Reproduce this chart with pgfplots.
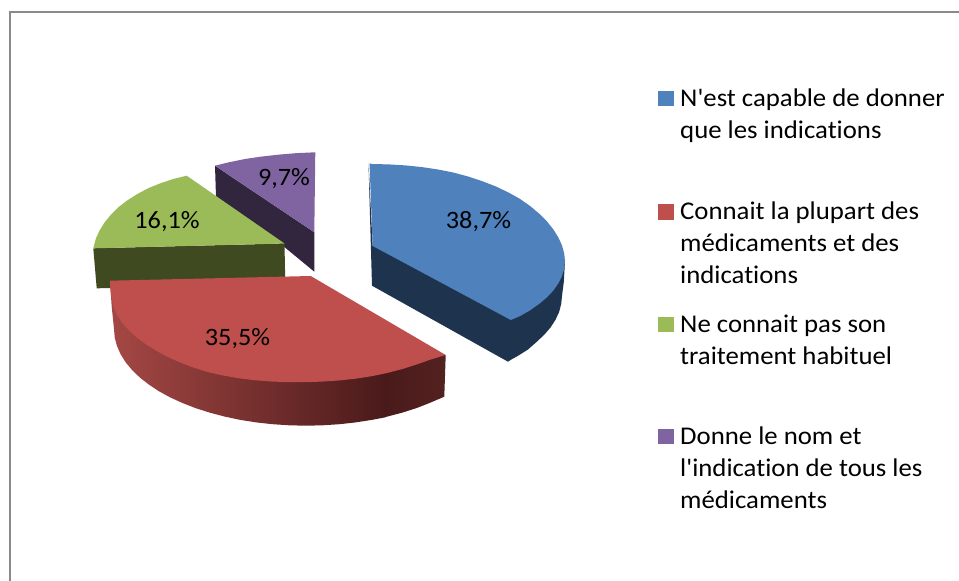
\documentclass[border=0pt]{standalone}
\usepackage{pgfplots}
\pgfplotsset{compat=1.18}
\usepackage{fontspec}
\setmainfont{Carlito}[Ligatures={TeXOff,NoCommon},FakeStretch=1.05]
\definecolor{cblue}{HTML}{4F81BD}
\definecolor{cred}{HTML}{BE4F4C}
\definecolor{cgreen}{HTML}{9BBB59}
\definecolor{cpurple}{HTML}{8064A2}
\definecolor{dblue}{HTML}{1E334E}
\definecolor{dgreen}{HTML}{404A20}
\definecolor{dpurple}{HTML}{32263F}
\definecolor{frame}{HTML}{8A8A8A}
\definecolor{sideL}{HTML}{A54845}
\definecolor{sideR}{HTML}{4A1A1A}
\definecolor{sideE}{HTML}{532120}
\begin{document}
\begin{tikzpicture}
\begin{axis}[
  scale only axis, width=959pt, height=581pt,
  xmin=0, xmax=959, ymin=0, ymax=581, y dir=reverse,
  hide axis, clip=true,
  every axis plot/.append style={draw=none, mark=none},
]
% background and frame
\addplot[fill=white] coordinates {(0,0)(959,0)(959,581)(0,581)} --cycle;
\addplot[draw=frame, line width=2pt] coordinates {(10,581)(10,12)(959,12)};
% purple slice
\addplot[fill=dpurple] coordinates {(215,165.7)(314.3,232.3)(314.3,271.7)(285,247.5)(216,197)} --cycle;
\addplot[fill=cpurple] coordinates {(215,165.7)(228,162.5)(245,159)(262,156.5)(280,154.5)(297,153.1)(315.3,152.3)(314.3,232.3)} --cycle;
% green slice
\addplot[fill=dgreen] coordinates {(93.3,248.3)(284.5,243.5)(285.3,285)(96.7,288.3)} --cycle;
\addplot[fill=cgreen] coordinates {(93.3,248.3)(95.9,238.5)(99.5,230.7)(104.5,222.5)(111,214.6)(118.6,207)(127.6,200.2)(137.7,193.8)(148.9,187.9)(161.2,183)(174.4,178.7)(186.7,175.7)(284.5,243.5)} --cycle;
% blue slice
\addplot[fill=dblue] coordinates {(368.5,163.3)(372,285.7)(508,361.7)(511,359.7)(517.5,356.1)(527.6,349.8)(536.5,342)(544.1,334.9)(550.5,327.5)(555.5,319.8)(559.1,312)(561.2,304)(562,296)(563.8,282)(565,261)(372.7,246)} --cycle;
\addplot[fill=cblue] coordinates {(369.5,163.3)(372,164)(388.8,164.4)(405.5,165.4)(422,167.1)(438,169.5)(453.6,172.6)(468.5,176.6)(482.8,181.4)(496,186.5)(508.5,192.5)(519.8,198.8)(530.1,206)(539,213.5)(546.9,221.4)(553.4,229.5)(558.4,237.5)(562,245.5)(564.2,253.4)(565,261)(564.2,268.5)(562,276)(558.4,283.3)(553.4,290.5)(546.9,297.4)(539,304)(530.1,310.3)(519.8,316.2)(510.8,320)(372.7,246)} --cycle;
% red slice: side with its shading, then its dark end, then the top
\addplot[left color=sideL, right color=sideR] coordinates {(110,281)(111.7,306.7)(114,329)(114.7,337.4)(116.9,345.8)(120.5,354)(125.5,362.1)(132,369.9)(139.7,377.4)(148.8,384.5)(158.9,391.2)(170.2,397.4)(182.5,403)(195.8,408.2)(210,412.7)(224.8,416.6)(240.3,419.9)(256.3,422.4)(272.6,424.2)(289.3,425.3)(306,425.7)(322.7,425.3)(339.4,424.2)(355.7,422.4)(371.7,419.9)(385,417.4)(385,360)} --cycle;
\addplot[left color=sideR, right color=sideE] coordinates {(384.6,360)(445.7,355)(444.3,396.7)(429.5,403)(416.2,408.2)(402,412.7)(387.2,416.6)(384.6,417.4)} --cycle;
\addplot[fill=cred] coordinates {(110,280.7)(110,285)(111,295)(113,304.9)(116.6,313.9)(121.7,322.2)(128.3,329.7)(136.1,337)(145.3,343.9)(155.6,350.4)(167.1,356.6)(179.6,362.3)(193.1,367.4)(207.5,372)(222.5,375.4)(238.3,378.2)(254.5,380.2)(271.1,381.5)(288,382.2)(305,382.2)(322,381.6)(338.9,380.5)(355.5,378.7)(371.7,376.2)(387.5,372.9)(402.5,369)(416.9,364.4)(430.4,359.6)(445.7,355)(310.7,276)} --cycle;
% legend keys
\addplot[only marks, mark=square*, mark size=7.3pt, mark options={draw=cblue, fill=cblue, line width=0.2pt}] coordinates {(665.8,98.2)};
\addplot[only marks, mark=square*, mark size=7.3pt, mark options={draw=cred, fill=cred, line width=0.2pt}] coordinates {(665.8,211.5)};
\addplot[only marks, mark=square*, mark size=7.3pt, mark options={draw=cgreen, fill=cgreen, line width=0.2pt}] coordinates {(665.8,324)};
\addplot[only marks, mark=square*, mark size=7.3pt, mark options={draw=cpurple, fill=cpurple, line width=0.2pt}] coordinates {(665.8,436)};
% data labels
\tikzset{lab/.style={font=\fontsize{25}{30}\selectfont, text=black, inner sep=0pt},
         leg/.style={font=\fontsize{25.5}{30}\selectfont, text=black, inner sep=0pt, anchor=base west}}
\node[lab] at (axis cs:478.5,222) {38,7\%};
\node[lab] at (axis cs:237.5,339) {35,5\%};
\node[lab] at (axis cs:167,222) {16,1\%};
\node[lab] at (axis cs:284,179) {9,7\%};
% legend text
\node[leg] at (axis cs:680,106) {N'est capable de donner};
\node[leg] at (axis cs:680,138.3) {que les indications};
\node[leg] at (axis cs:680,219) {Connait la plupart des};
\node[leg] at (axis cs:680,251) {médicaments et des};
\node[leg] at (axis cs:680,283) {indications};
\node[leg] at (axis cs:680,332) {Ne connait pas son};
\node[leg] at (axis cs:680,364) {traitement habituel};
\node[leg] at (axis cs:680,444) {Donne le nom et};
\node[leg] at (axis cs:680,476) {l'indication de tous les};
\node[leg] at (axis cs:680,508) {médicaments};
\end{axis}
\end{tikzpicture}
\end{document}
